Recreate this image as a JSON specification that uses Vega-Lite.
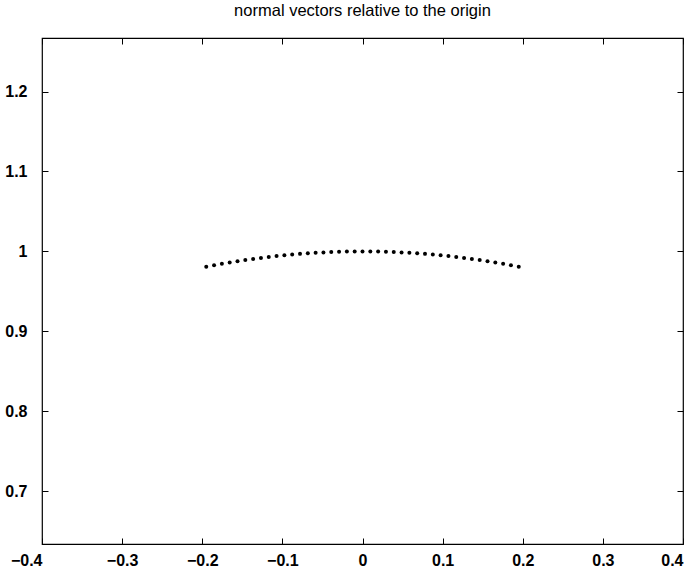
{
  "$schema": "https://vega.github.io/schema/vega-lite/v6.json",
  "width": 641,
  "height": 506,
  "autosize": {"type": "none"},
  "padding": {"left": 42, "top": 38, "right": 6, "bottom": 27},
  "background": "white",
  "title": {"text": "normal vectors relative to the origin", "fontSize": 16.5, "fontWeight": "normal", "font": "Liberation Sans", "color": "black", "offset": 18},
  "config": {
    "view": {"stroke": "black", "strokeWidth": 1.2},
    "axis": {"grid": false, "domain": false, "tickColor": "black", "tickSize": -6, "tickWidth": 1, "labelFont": "Liberation Sans", "labelFontSize": 16, "labelColor": "black", "labelFontWeight": "bold", "title": null}
  },
  "data": {"values": [
    {"x": -0.195, "y": 0.98081}, {"x": -0.18525, "y": 0.98269}, {"x": -0.1755, "y": 0.98448}, {"x": -0.16575, "y": 0.98617},
    {"x": -0.156, "y": 0.98776}, {"x": -0.14625, "y": 0.98925}, {"x": -0.1365, "y": 0.99064}, {"x": -0.12675, "y": 0.99193},
    {"x": -0.117, "y": 0.99313}, {"x": -0.10725, "y": 0.99423}, {"x": -0.0975, "y": 0.99524}, {"x": -0.08775, "y": 0.99614},
    {"x": -0.078, "y": 0.99695}, {"x": -0.06825, "y": 0.99767}, {"x": -0.0585, "y": 0.99829}, {"x": -0.04875, "y": 0.99881},
    {"x": -0.039, "y": 0.99924}, {"x": -0.02925, "y": 0.99957}, {"x": -0.0195, "y": 0.99981}, {"x": -0.00975, "y": 0.99995},
    {"x": 0, "y": 1.0},
    {"x": 0.00975, "y": 0.99995}, {"x": 0.0195, "y": 0.99981}, {"x": 0.02925, "y": 0.99957}, {"x": 0.039, "y": 0.99924},
    {"x": 0.04875, "y": 0.99881}, {"x": 0.0585, "y": 0.99829}, {"x": 0.06825, "y": 0.99767}, {"x": 0.078, "y": 0.99695},
    {"x": 0.08775, "y": 0.99614}, {"x": 0.0975, "y": 0.99524}, {"x": 0.10725, "y": 0.99423}, {"x": 0.117, "y": 0.99313},
    {"x": 0.12675, "y": 0.99193}, {"x": 0.1365, "y": 0.99064}, {"x": 0.14625, "y": 0.98925}, {"x": 0.156, "y": 0.98776},
    {"x": 0.16575, "y": 0.98617}, {"x": 0.1755, "y": 0.98448}, {"x": 0.18525, "y": 0.98269}, {"x": 0.195, "y": 0.98081}
  ]},
  "layer": [
    {
      "mark": {"type": "point", "filled": true, "color": "black", "size": 16, "opacity": 1},
      "encoding": {
        "x": {"field": "x", "type": "quantitative", "scale": {"domain": [-0.4, 0.4], "nice": false, "zero": false},
              "axis": {"orient": "bottom", "values": [-0.4, -0.3, -0.2, -0.1, 0, 0.1, 0.2, 0.3, 0.4], "format": ".1~f", "labelPadding": 14, "labelFlush": false, "labelOverlap": false,
                       "labelAlign": {"expr": "datum.value >= 0.39 ? 'right' : (datum.value <= -0.39 ? 'right' : 'center')"}}},
        "y": {"field": "y", "type": "quantitative", "scale": {"domain": [0.634, 1.267], "nice": false, "zero": false},
              "axis": {"orient": "left", "values": [0.7, 0.8, 0.9, 1.0, 1.1, 1.2], "format": ".1~f", "labelPadding": 21}}
      }
    },
    {
      "mark": {"type": "point", "opacity": 0},
      "encoding": {
        "x": {"field": "x", "type": "quantitative", "axis": {"orient": "top", "values": [-0.4, -0.3, -0.2, -0.1, 0, 0.1, 0.2, 0.3, 0.4], "labels": false}},
        "y": {"field": "y", "type": "quantitative", "axis": {"orient": "right", "values": [0.7, 0.8, 0.9, 1.0, 1.1, 1.2], "labels": false}}
      }
    }
  ],
  "resolve": {"axis": {"x": "independent", "y": "independent"}}
}
